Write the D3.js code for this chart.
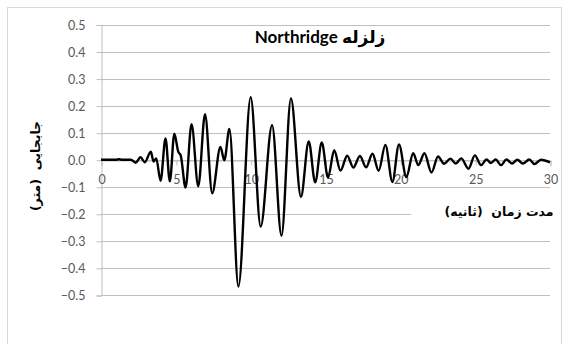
<!DOCTYPE html>
<html>
<head>
<meta charset="utf-8">
<script src="https://cdn.jsdelivr.net/npm/d3@7/dist/d3.min.js"></script>
<style>
  html, body { margin: 0; padding: 0; background: #fff; }
  svg { display: block; }
  .tick-label { font-family: Lato, "Liberation Sans", sans-serif; font-size: 12.5px; fill: #595959; }
  .title { font-family: Lato, "DejaVu Sans", sans-serif; font-weight: bold; font-size: 17px; fill: #000; }
  .fa { font-family: "DejaVu Sans", sans-serif; }
  .axis-title { font-family: "DejaVu Sans", sans-serif; font-weight: bold; font-size: 12.5px; fill: #000; white-space: pre; }
</style>
</head>
<body>
<svg id="chart" width="569" height="344"></svg>
<script>
// Ground displacement record, Northridge earthquake
const timeSec = [
  0, 1.0, 1.2, 1.4, 2.0, 2.31, 2.64, 2.93, 3.33, 3.51, 3.69, 3.98, 4.31, 4.6, 4.9,
  5.16, 5.33, 5.65, 6.05, 6.5, 6.95, 7.43, 7.98, 8.24, 8.58, 9.18, 10.0, 10.67,
  11.43, 12.06, 12.69, 13.36, 13.88, 14.31, 14.75, 15.17, 15.58, 16.0, 16.45,
  16.86, 17.3, 17.71, 18.14, 18.55, 19.0, 19.47, 19.91, 20.4, 20.86, 21.2, 21.61,
  22.08, 22.52, 22.92, 23.35, 23.7, 24.07, 24.55, 24.98, 25.39, 25.76, 26.05,
  26.37, 26.73, 27.09, 27.46, 27.82, 28.18, 28.62, 28.96, 29.4, 30.0
];
const displacement = [
  0, 0, 0.002, 0, 0, -0.011, 0.009, -0.009, 0.03, -0.007, 0.005, -0.078, 0.079, -0.08, 0.096,
  0.03, 0.015, -0.103, 0.131, -0.098, 0.168, -0.124, 0.047, -0.002, 0.114, -0.469, 0.231, -0.247,
  0.128, -0.281, 0.227, -0.137, 0.068, -0.083, 0.064, -0.066, 0.035, -0.04, 0.015,
  -0.029, 0.014, -0.028, 0.022, -0.041, 0.055, -0.082, 0.057, -0.064, 0.024, -0.02, 0.024,
  -0.047, 0.012, -0.015, 0.004, -0.014, 0.005, -0.033, 0.016, -0.02, 0.001, -0.012,
  0.001, -0.02, 0.001, -0.014, 0.0, -0.014, 0.001, -0.016, 0.0, -0.01
];
const yTicks = [-0.5, -0.4, -0.3, -0.2, -0.1, 0.0, 0.1, 0.2, 0.3, 0.4, 0.5];
const xTicks = [0, 5, 10, 15, 20, 25, 30];

const titleFa = "زلزله";
const titleEn = "Northridge";
const yTitle = "جابجایی  (متر)";
const xTitle = "مدت زمان  (ثانیه)";

const svg = d3.select("#chart");
const grid = "#bfbfbf";

const x = d3.scaleLinear().domain([0, 30]).range([101, 550]);
const y = d3.scaleLinear().domain([-0.5, 0.5]).range([295, 24.5]);

// chart frame
svg.append("rect")
  .attr("x", 7.5).attr("y", 7.5).attr("width", 554).attr("height", 340)
  .attr("fill", "#fff").attr("stroke", "#d9d9d9");

// horizontal gridlines
svg.append("g").selectAll("line").data(yTicks).join("line")
  .attr("x1", x(0)).attr("x2", x(30))
  .attr("y1", d => Math.round(y(d)) + 0.5).attr("y2", d => Math.round(y(d)) + 0.5)
  .attr("stroke", grid).attr("stroke-width", 1);

// y axis
const yAxis = d3.axisLeft(y).tickValues(yTicks).tickSize(5).tickPadding(11)
  .tickFormat(d3.format(".1f"));
const gy = svg.append("g").attr("transform", `translate(${x(0) + 0.5},0.5)`).call(yAxis);
gy.select(".domain").attr("stroke", grid);
gy.selectAll(".tick line").attr("stroke", grid);
gy.selectAll(".tick text").attr("class", "tick-label").attr("dy", "0.35em").attr("font-family", null).attr("font-size", null);

// x axis along zero line
const xAxis = d3.axisBottom(x).tickValues(xTicks).tickSize(5).tickPadding(10)
  .tickFormat(d3.format("d"));
const gx = svg.append("g").attr("transform", `translate(0.5,${Math.round(y(0)) + 0.5})`).call(xAxis);
gx.select(".domain").attr("stroke", grid);
gx.selectAll(".tick line").attr("stroke", grid);
gx.selectAll(".tick text").attr("class", "tick-label").attr("font-family", null).attr("font-size", null);

// x-axis title box sits over the gridline
svg.append("rect")
  .attr("x", 411).attr("y", 201).attr("width", 140).attr("height", 22)
  .attr("fill", "#fff");
svg.append("text")
  .attr("class", "axis-title")
  .attr("x", 499).attr("y", 216)
  .attr("text-anchor", "middle")
  .attr("direction", "rtl")
  .text(xTitle);

// y-axis title
svg.append("text")
  .attr("class", "axis-title")
  .attr("transform", "translate(40,166) rotate(-90)")
  .attr("text-anchor", "middle")
  .attr("direction", "rtl")
  .text(yTitle);

// chart title: Persian word on the right, English name on the left
const title = svg.append("text")
  .attr("class", "title")
  .attr("x", 320).attr("y", 43)
  .attr("text-anchor", "middle")
  .attr("direction", "rtl");
title.append("tspan").attr("class", "fa").text(titleFa);
title.append("tspan").text(" " + titleEn);

// displacement trace
const pts = timeSec.map((t, i) => [t, displacement[i]]);
const line = d3.line()
  .x(d => x(d[0])).y(d => y(d[1]))
  .curve(d3.curveMonotoneX);
svg.append("path")
  .datum(pts)
  .attr("d", line)
  .attr("fill", "none")
  .attr("stroke", "#000")
  .attr("stroke-width", 2.4)
  .attr("stroke-linejoin", "round");
</script>
</body>
</html>
